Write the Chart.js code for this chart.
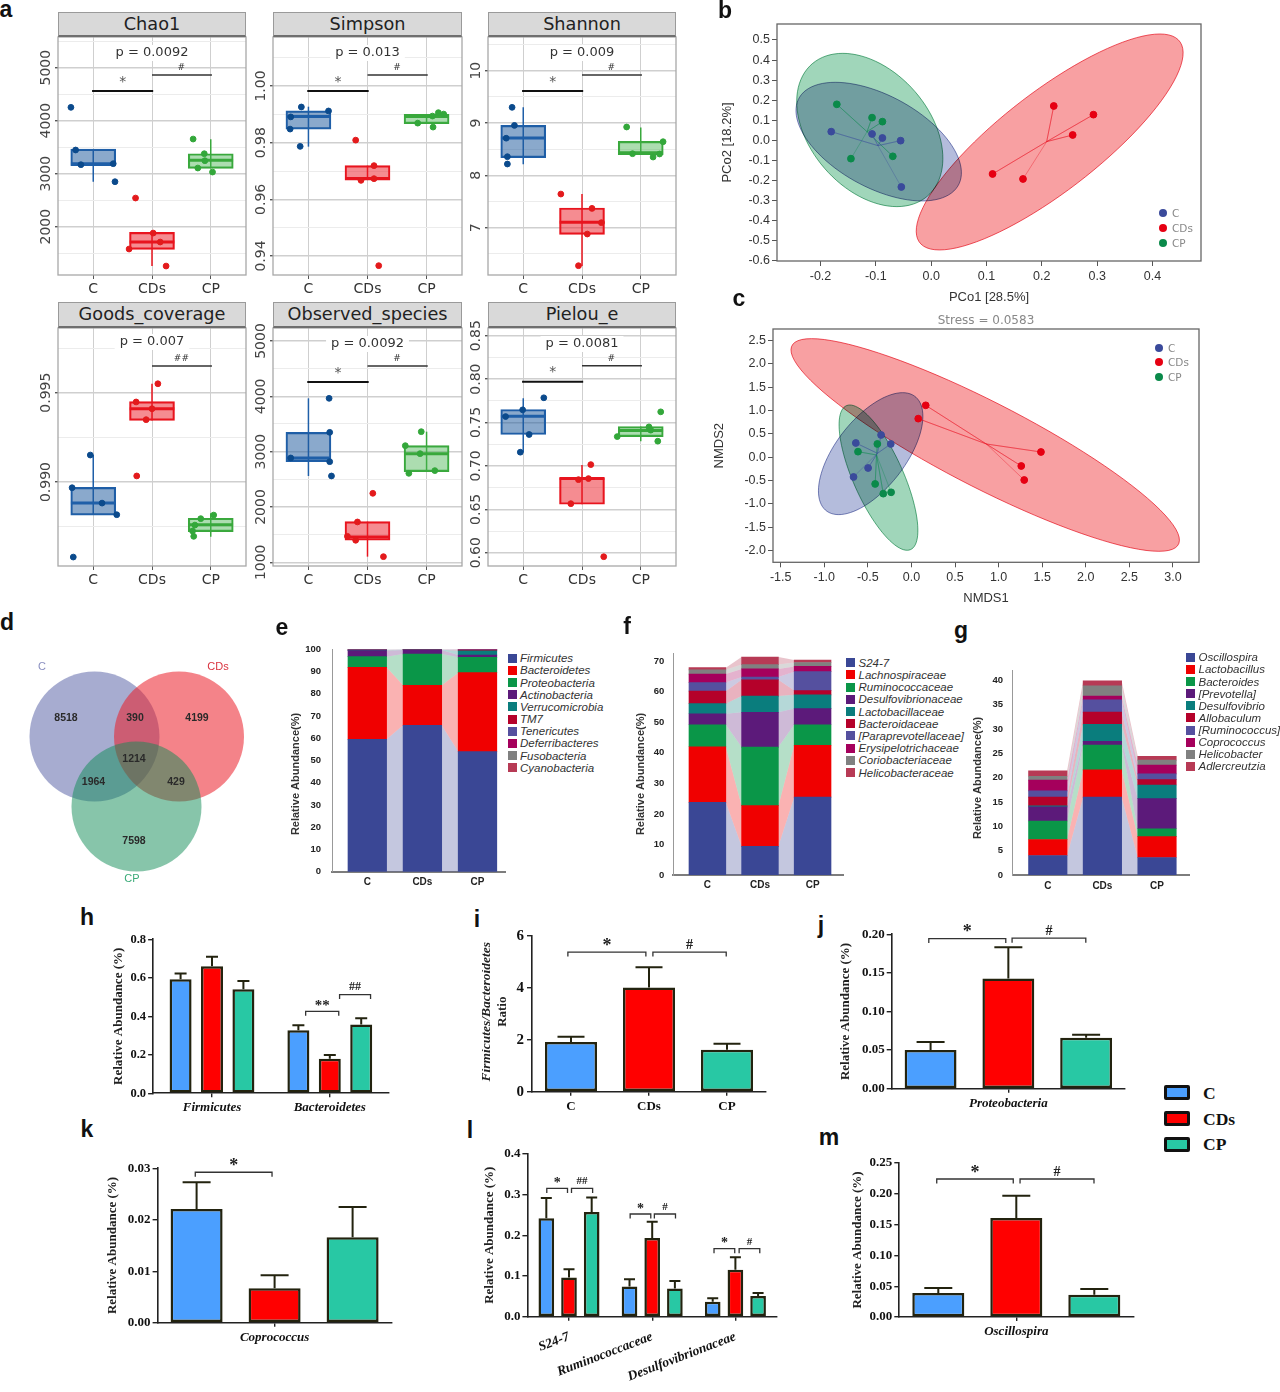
<!DOCTYPE html>
<html><head><meta charset="utf-8">
<script src="https://cdn.jsdelivr.net/npm/chart.js@4/dist/chart.umd.min.js"></script>
<style>
html,body{margin:0;padding:0;background:#fff}
#page{position:relative;width:1280px;height:1392px;overflow:hidden;background:#fff}
#page canvas{position:absolute}
.t{position:absolute;white-space:nowrap;line-height:1}
.strip{position:absolute;box-sizing:border-box;background:#d9d9d9;border:1px solid #9a9a9a;border-bottom:2px solid #6f6f6f;text-align:center;font:17.7px "DejaVu Sans";color:#222;line-height:23px}
</style></head><body><div id="page"></div>
<script>
/* ---------- shared categories ---------- */
const groups = ['C','CDs','CP'];

/* ---------- a: alpha diversity; boxes are [q1, median, q3, whiskerLow, whiskerHigh] ---------- */
const chaoBoxes = [[3151,3189,3465,2849,3465],[1572,1711,1893,1258,1893],[3101,3252,3377,3101,3648]];
const chaoPoints = [[[.62,4252],[.70,3447],[.79,3170],[1.34,3189],[1.37,2849]],[[1.72,2541],[2.02,1880],[2.14,1711],[1.61,1579],[2.24,1258]],[[2.70,3654],[2.89,3377],[2.90,3245],[2.78,3107],[3.03,3031]]];
const chaoMajor = [2000,3000,4000,5000], chaoMinor = [1500,2500,3500,4500,5500];
const simpsonBoxes = [[.9848,.9892,.9912,.9786,.9927],[.9668,.9674,.9719,.9668,.9719],[.9867,.9892,.9900,.9867,.9900]];
const simpsonPoints = [[[.88,.9926],[1.34,.9912],[.70,.9891],[.69,.9848],[.86,.9787]],[[1.80,.9809],[2.11,.9719],[2.11,.9673],[1.89,.9667],[2.19,.9366]],[[3.20,.9906],[3.29,.9901],[3.10,.9894],[2.85,.9869],[3.11,.9855]]];
const simpsonMajor = [.94,.96,.98,1.00], simpsonMinor = [.95,.97,.99,1.01];
const shannonBoxes = [[8.338,8.713,8.955,8.21,9.30],[6.873,7.102,7.376,6.268,7.643],[8.395,8.433,8.65,8.395,8.917]];
const shannonPoints = [[[.81,9.30],[.85,8.955],[.71,8.71],[.73,8.357],[.73,8.217]],[[1.64,7.643],[2.17,7.369],[2.33,7.096],[2.09,6.879],[1.94,6.274]],[[2.76,8.924],[3.38,8.643],[2.86,8.414],[3.32,8.408],[3.21,8.35]]];
const shannonMajor = [7,8,9,10], shannonMinor = [6.5,7.5,8.5,9.5,10.5];
const goodsBoxes = [[.98815,.98882,.98970,.98815,.99151],[.99345,.99410,.99450,.99345,.9955],[.98722,.98761,.98797,.98694,.98825]];
const goodsPoints = [[[.95,.99151],[.64,.98968],[1.15,.98882],[1.40,.98817],[.66,.98580]],[[2.10,.9955],[1.73,.99448],[2.0,.9941],[1.9,.99349],[1.74,.99034]],[[3.05,.98815],[2.83,.98795],[2.73,.98759],[2.69,.98726],[2.71,.98696]]];
const goodsMajor = [.990,.995], goodsMinor = [.9875,.9925,.9975];
const observedBoxes = [[2819,2886,3349,2560,3964],[1398,1458,1735,1102,1735],[2639,2964,3108,2639,3361]];
const observedPoints = [[[1.35,3964],[1.36,3349],[.70,2886],[1.36,2819],[1.39,2560]],[[2.09,2247],[1.83,1729],[1.66,1470],[1.80,1398],[2.27,1102]],[[2.91,3361],[2.64,3108],[2.89,2964],[2.70,2608],[3.14,2657]]];
const observedMajor = [1000,2000,3000,4000,5000], observedMinor = [1500,2500,3500,4500];
const pielouBoxes = [[.7362,.7573,.765,.7158,.7781],[.6558,.6854,.6865,.6558,.7012],[.7338,.7408,.7454,.7285,.7454]];
const pielouPoints = [[[1.35,.7785],[.99,.7646],[.70,.7569],[1.10,.7362],[.95,.7158]],[[2.15,.7015],[2.11,.6854],[1.94,.6842],[1.81,.6565],[2.37,.5954]],[[3.34,.7623],[3.14,.745],[3.17,.7412],[2.60,.7338],[3.29,.7285]]];
const pielouMajor = [.60,.65,.70,.75,.80,.85], pielouMinor = [.625,.675,.725,.775,.825];

/* ---------- b: PCoA ---------- */
const pcoaC = [[-.1806,.0432],[-.1068,.0316],[-.0881,.0116],[-.0552,-.0017],[-.0539,-.2326]];
const pcoaCDs = [[.2216,.1711],[.2933,.1279],[.2558,.0266],[.1110,-.1678],[.1660,-.1927]];
const pcoaCP = [[-.1705,.1794],[-.1068,.1130],[-.0881,.0930],[-.0693,-.0797],[-.1450,-.0914]];
const pcoaCentroids = [[-.0961,-.0266],[.2088,-.0066],[-.1159,.0429]];
/* ellipses: centre x, centre y, conjugate vector a (x,y), conjugate half-width b */
const pcoaEllC = [-.0948,-.0066,-.0784,.2957,.1273];
const pcoaEllCDs = [.2142,-.0083,.1991,.5382,.1361];
const pcoaEllCP = [-.1109,.0515,-.0489,.382,.1227];
const pcoaXTicks = [-.2,-.1,0,.1,.2,.3,.4];
const pcoaYTicks = [-.6,-.5,-.4,-.3,-.2,-.1,0,.1,.2,.3,.4,.5];

/* ---------- c: NMDS ---------- */
const nmdsC = [[-.638,.307],[-.348,.479],[-.237,.286],[-.497,-.229],[-.664,-.421]];
const nmdsCDs = [[.164,1.114],[.078,.829],[1.486,.114],[1.260,-.186],[1.294,-.486]];
const nmdsCP = [[-.613,.121],[-.391,.286],[-.416,-.571],[-.323,-.779],[-.233,-.750]];
const nmdsCentroids = [[-.39,.086],[.859,.286],[-.40,.05]];
const nmdsEllC = [-.4676,.0786,.3669,1.307,.4736];
const nmdsEllCDs = [.8464,.2643,-1.992,2.279,.998];
const nmdsEllCP = [-.378,-.4357,-.3285,1.557,.3106];
const nmdsXTicks = [-1.5,-1,-.5,0,.5,1,1.5,2,2.5,3];
const nmdsYTicks = [-2,-1.5,-1,-.5,0,.5,1,1.5,2,2.5];

/* ---------- d: Venn ---------- */
const vennNames = ['C','CDs','CP'];
const vennCounts = {onlyC:8518,cCDs:390,onlyCDs:4199,all:1214,cCP:1964,cdsCP:429,onlyCP:7598};

/* ---------- e: phylum ---------- */
const phylumNames = ['Firmicutes','Bacteroidetes','Proteobacteria','Actinobacteria','Verrucomicrobia','TM7','Tenericutes','Deferribacteres','Fusobacteria','Cyanobacteria'];
const phylumC = [59.5,32.4,4.8,2.7,.2,.1,.1,.05,.03,.02];
const phylumCDs = [65.8,18,14.1,1.8,.1,.05,.05,.05,.03,.02];
const phylumCP = [54,35.5,6.9,1.0,1.9,.3,.2,.1,.05,.05];
const phylumTicks = [0,10,20,30,40,50,60,70,80,90,100];

/* ---------- f: family ---------- */
const familyNames = ['S24-7','Lachnospiraceae','Ruminococcaceae','Desulfovibrionaceae','Lactobacillaceae','Bacteroidaceae','[Paraprevotellaceae]','Erysipelotrichaceae','Coriobacteriaceae','Helicobacteraceae'];
const familyC = [23.8,18.2,7.2,3.6,3.3,4.1,2.8,2.8,1.4,.7];
const familyCDs = [9.4,13.3,19.2,11.4,5.3,5.3,.9,2.7,1.4,2.5];
const familyCP = [25.5,17,6.7,5.3,4.5,1.4,6.2,1.7,1.3,.8];
const familyTicks = [0,10,20,30,40,50,60,70];

/* ---------- g: genus ---------- */
const genusNames = ['Oscillospira','Lactobacillus','Bacteroides','[Prevotella]','Desulfovibrio','Allobaculum','[Ruminococcus]','Coprococcus','Helicobacter','Adlercreutzia'];
const genusC = [4,3.3,3.8,2.9,.2,1.8,1.3,2.2,.8,1.1];
const genusCDs = [16,5.6,5.1,.8,3.5,2.5,2.5,.8,2.1,1];
const genusCP = [3.6,4.3,1.6,6.2,2.8,1.1,1.2,1.8,1,.8];
const genusTicks = [0,5,10,15,20,25,30,35,40];

/* ---------- h-m: bars; each series is one group, tops are the upper error-bar values ---------- */
const hCats = ['Firmicutes','Bacteroidetes'];
const hMeans = [[.592,.327],[.66,.18],[.54,.357]];
const hTops = [[.622,.353],[.71,.199],[.584,.39]];
const hTicks = [0,.2,.4,.6,.8];
const iMeans = [1.914,4.02,1.62];
const iTops = [2.12,4.8,1.85];
const iTicks = [0,2,4,6];
const jCats = ['Proteobacteria'];
const jMeans = [[.0501],[.1426],[.0661]];
const jTops = [[.0605],[.1832],[.07]];
const jTicks = [0,.05,.10,.15,.20];
const kCats = ['Coprococcus'];
const kMeans = [[.0221],[.00668],[.0166]];
const kTops = [[.0273],[.0092],[.0225]];
const kTicks = [0,.01,.02,.03];
const lCats = ['S24-7','Ruminococcaceae','Desulfovibrionaceae'];
const lMeans = [[.2413,.0744,.0368],[.0965,.193,.1153],[.2568,.0695,.0507]];
const lTops = [[.2912,.0916,.045],[.1162,.2331,.1456],[.2928,.0875,.0581]];
const lTicks = [0,.1,.2,.3,.4];
const mCats = ['Oscillospira'];
const mMeans = [[.039],[.1607],[.0363]];
const mTops = [[.0471],[.197],[.0455]];
const mTicks = [0,.05,.10,.15,.20,.25];

/* ---------- styles ---------- */
const SANS='"Liberation Sans"', SERIF='"Liberation Serif"', DJ='"DejaVu Sans"';
const page=document.getElementById('page');
Chart.defaults.font.family=SANS;
const stackColors=['#3a4795','#f00000','#0a9648','#5c1a7a','#0a7d7d','#b5012a','#55509f','#a5005c','#808080','#b73a55'];
const barColors=['#4b9fff','#ff0000','#28c8a4'];
const boxLine=['#1f5fa8','#e8141e','#39a83c'], boxFill=['rgba(31,90,158,.52)','rgba(235,25,35,.5)','rgba(70,180,80,.45)'], boxDot=['#0b4a8c','#e31a1c','#33a73a'];
const ordColors=['#3a4a9b','#e60012','#0a8a4a'];
const ordFill=['#b4bcdc','#f8a0a2','#a0d6ba'];

function html(text,x,y,css){const d=document.createElement('div');d.className='t';d.textContent=text;d.style.cssText+=`left:${x}px;top:${y}px;transform:translate(-50%,-50%);`+(css||'');page.appendChild(d);return d;}
function leftHtml(text,x,y,css){const d=html(text,x,y,css);d.style.transform='translate(0,-50%)';return d;}

/* create a chart whose plot area is pinned to box = [left, top, right, bottom] */
function pinned(box,pad,cfg,extra){
  extra=extra||{};
  const L=Math.floor(box[0]-pad.l),T=Math.floor(box[1]-pad.t);
  const W=Math.ceil(box[2]+pad.r)-L,H=Math.ceil(box[3]+pad.b)-T;
  const c=document.createElement('canvas');c.width=W;c.height=H;
  c.style.cssText=`left:${L}px;top:${T}px;width:${W}px;height:${H}px`;page.appendChild(c);
  const padL=box[0]-L,padT=box[1]-T,padR=L+W-box[2],padB=T+H-box[3];
  cfg.options=cfg.options||{};
  const o=cfg.options;
  o.responsive=false;o.animation=false;o.devicePixelRatio=1;
  o.layout={autoPadding:false,padding:{left:0,top:padT,right:padR,bottom:0}};
  o.plugins=Object.assign({legend:{display:false},tooltip:{enabled:false}},o.plugins||{});
  o.scales.x.afterFit=s=>{s.height=padB};
  o.scales.y.afterFit=s=>{s.width=padL};
  cfg.plugins=[{id:'custom',
    beforeDatasetsDraw(ch){
      if(extra.ellipses)extra.ellipses.forEach(e=>drawEllipse(ch,e));
      if(extra.bands)drawBands(ch,extra.bands);
    },
    afterDatasetsDraw(ch){
      if(extra.tops)drawErrors(ch,extra.tops,extra.cap);
      if(extra.frame){const a=ch.chartArea,x=ch.ctx;x.save();x.strokeStyle=extra.frame;x.lineWidth=extra.frameW||1.3;x.strokeRect(a.left,a.top,a.right-a.left,a.bottom-a.top);x.restore();}
      if(extra.brackets)extra.brackets.forEach(b=>drawBracket(ch,b));
      if(extra.marks)extra.marks.forEach(m=>{const x=ch.ctx;x.save();x.font=m.font;x.fillStyle=m.color||'#333';x.textAlign='center';x.textBaseline='middle';
        const px=ch.scales.x.getPixelForValue(m.x),py=ch.scales.y.getPixelForValue(m.y)-(m.dy||0);
        if(m.bg){const w=x.measureText(m.text).width+10;x.fillStyle=m.bg;x.fillRect(px-w/2,py-8,w,16);x.fillStyle=m.color||'#333';}
        x.fillText(m.text,px,py);x.restore();});
      if(extra.notes)extra.notes.forEach(n=>{const x=ch.ctx;x.save();x.font=n.font;x.fillStyle=n.color||'#222';x.textAlign='center';x.textBaseline='middle';x.translate(n.x-L,n.y-T);if(n.rot)x.rotate(n.rot);x.fillText(n.text,0,0);x.restore();});
    }}];
  return new Chart(c,cfg);
}
function drawEllipse(ch,e){
  const xs=ch.scales.x,ys=ch.scales.y,x=ch.ctx,[cx,cy,ax,ay,bx]=e.v;
  x.save();x.globalCompositeOperation='multiply';x.beginPath();
  for(let k=0;k<=96;k++){const t=k/96*2*Math.PI,vx=cx+ax*Math.cos(t)+bx*Math.sin(t),vy=cy+ay*Math.cos(t),
    px=xs.getPixelForValue(vx),py=ys.getPixelForValue(vy);k?x.lineTo(px,py):x.moveTo(px,py);}
  x.closePath();x.fillStyle=e.fill;x.fill();x.strokeStyle=e.stroke;x.globalAlpha=.65;x.lineWidth=1;x.stroke();x.restore();
}
function drawBands(ch,half){
  const xs=ch.scales.x,ys=ch.scales.y,x=ch.ctx,ds=ch.data.datasets;
  x.save();x.globalAlpha=.3;
  for(let g=0;g<2;g++){let a=0,b=0;
    ds.forEach(d=>{const a2=a+d.data[g].y,b2=b+d.data[g+1].y;
      const xa=xs.getPixelForValue(g+1)+half,xb=xs.getPixelForValue(g+2)-half;
      x.fillStyle=d.backgroundColor;x.beginPath();
      x.moveTo(xa,ys.getPixelForValue(a));x.lineTo(xb,ys.getPixelForValue(b));x.lineTo(xb,ys.getPixelForValue(b2));x.lineTo(xa,ys.getPixelForValue(a2));x.closePath();x.fill();
      a=a2;b=b2;});}
  x.restore();
}
function drawErrors(ch,tops,cap){
  const ys=ch.scales.y,x=ch.ctx;x.save();x.strokeStyle='#23230f';x.lineWidth=2;
  tops.forEach((arr,di)=>{ch.getDatasetMeta(di).data.forEach((el,i)=>{const yb=ys.getPixelForValue(ch.data.datasets[di].data[i]),yt=ys.getPixelForValue(arr[i]);
    x.beginPath();x.moveTo(el.x,yb);x.lineTo(el.x,yt);x.moveTo(el.x-cap,yt);x.lineTo(el.x+cap,yt);x.stroke();});});
  x.restore();
}
function drawBracket(ch,b){
  const xs=ch.scales.x,ys=ch.scales.y,x=ch.ctx,x0=xs.getPixelForValue(b.x0),x1=xs.getPixelForValue(b.x1),y=ys.getPixelForValue(b.y);
  x.save();x.strokeStyle='#333';x.lineWidth=1.3;x.beginPath();x.moveTo(x0,y+(b.tick||4.5));x.lineTo(x0,y);x.lineTo(x1,y);x.lineTo(x1,y+(b.tick||4.5));x.stroke();
  x.font=`bold ${b.fs||16}px ${SERIF}`;x.fillStyle='#222';x.textAlign='center';x.textBaseline='middle';x.fillText(b.t,(x0+x1)/2,y-(b.dy||7));x.restore();
}
function setTicks(arr){return s=>{s.ticks=arr.map(v=>({value:v}));};}

/* ---------- panel a ---------- */
function alphaPanel(name,box,strip,range,major,minor,dec,boxes,points,star,hash,hashLabel,pText,pY){
  const all=[...major,...minor].sort((a,b)=>a-b);
  const ctx=document.createElement('canvas').getContext('2d');ctx.font=`14px ${DJ}`;
  const widest=Math.max(...major.map(v=>ctx.measureText(v.toFixed(dec)).width));
  const ds=[];
  ds.push({type:'bar',data:boxes.map((b,i)=>({x:i+1,y:[b[0],b[2]]})),backgroundColor:boxFill,borderColor:boxLine,borderWidth:1.5,borderSkipped:false,barThickness:45,order:3});
  boxes.forEach((b,i)=>{
    ds.push({type:'line',data:[{x:i+1,y:b[3]},{x:i+1,y:b[4]}],borderColor:boxLine[i],borderWidth:1.5,pointRadius:0,order:5});
    ds.push({type:'line',data:[{x:i+.62,y:b[1]},{x:i+1.38,y:b[1]}],borderColor:boxLine[i],borderWidth:3,pointRadius:0,order:2});
    ds.push({type:'scatter',data:points[i].map(p=>({x:p[0],y:p[1]})),backgroundColor:boxDot[i],borderColor:boxDot[i],pointRadius:2.9,order:1});
  });
  if(star!==null)ds.push({type:'line',data:[{x:.98,y:star},{x:2.02,y:star}],borderColor:'#111',borderWidth:2,pointRadius:0,order:0});
  ds.push({type:'line',data:[{x:2,y:hash},{x:3.02,y:hash}],borderColor:'#333',borderWidth:1.5,pointRadius:0,order:0});
  const marks=[{x:2,y:range[1],dy:pY,text:pText,font:`13px ${DJ}`,color:'#333',bg:'#fff'},
    {x:2.5,y:hash,dy:7,text:hashLabel,font:`9px ${DJ}`,color:'#333'}];
  if(star!==null)marks.push({x:1.5,y:star,dy:9,text:'*',font:`14px ${DJ}`,color:'#555'});
  pinned(box,{l:26,t:10,r:2,b:30},{type:'bar',data:{datasets:ds},options:{scales:{
    x:{type:'linear',min:.4,max:3.6,offset:false,grid:{offset:false,color:'#cfcfcf',lineWidth:1,tickLength:4,tickColor:'#555'},border:{display:false},afterBuildTicks:setTicks([1,2,3]),
       ticks:{autoSkip:false,maxRotation:0,padding:2,color:'#333',font:{family:DJ,size:14},callback:v=>groups[v-1]}},
    y:{min:range[0],max:range[1],grid:{color:c=>major.includes(c.tick.value)?'#cfcfcf':'#ececec',lineWidth:c=>major.includes(c.tick.value)?1.4:1,tickLength:3,tickColor:c=>major.includes(c.tick.value)?'#555':'rgba(0,0,0,0)'},border:{display:false},afterBuildTicks:setTicks(all),
       ticks:{autoSkip:false,minRotation:90,maxRotation:90,crossAlign:'center',padding:12-3-widest/2,color:'#444',font:{family:DJ,size:14},callback:v=>major.includes(v)?v.toFixed(dec):''}}
  }}},{frame:'#a8a8a8',marks});
  const s=document.createElement('div');s.className='strip';s.textContent=name;
  s.style.cssText=`left:${box[0]}px;top:${strip}px;width:${box[2]-box[0]}px;height:${box[1]-strip}px`;page.appendChild(s);
}
alphaPanel('Chao1',[58,37,246,275],12,[1089,5579],chaoMajor,chaoMinor,0,chaoBoxes,chaoPoints,4560,4862,'#','p = 0.0092',-16);
alphaPanel('Simpson',[273,37,462,275],12,[.9333,1.0173],simpsonMajor,simpsonMinor,2,simpsonBoxes,simpsonPoints,.99824,1.00388,'#','p = 0.013',-16);
alphaPanel('Shannon',[488,37,676,275],12,[6.096,10.644],shannonMajor,shannonMinor,0,shannonBoxes,shannonPoints,9.611,9.917,'#','p = 0.009',-16);
alphaPanel('Goods_coverage',[58,328,246,566],302,[.9853,.99862],goodsMajor,goodsMinor,3,goodsBoxes,goodsPoints,null,.99649,'##','p = 0.007',-14);
alphaPanel('Observed_species',[273,328,462,566],302,[933,5235],observedMajor,observedMinor,0,observedBoxes,observedPoints,4259,4548,'#','p = 0.0092',-16);
alphaPanel('Pielou_e',[488,328,676,566],302,[.5847,.8589],pielouMajor,pielouMinor,2,pielouBoxes,pielouPoints,.7969,.8154,'#','p = 0.0081',-16);

/* ---------- panels b, c ---------- */
function ordPanel(box,pad,xr,yr,xT,yT,sets,cents,ells,xt,yt){
  const ds=[];
  sets.forEach((s,i)=>{
    const spoke=[];s.forEach(p=>{spoke.push({x:cents[i][0],y:cents[i][1]});spoke.push({x:p[0],y:p[1]});});
    ds.push({type:'line',data:spoke,borderColor:ordColors[i]+'55',borderWidth:1,pointRadius:0,order:2});
    ds.push({type:'scatter',data:s.map(p=>({x:p[0],y:p[1]})),backgroundColor:ordColors[i],borderColor:ordColors[i],pointRadius:3.4,order:1});
  });
  const tickFont={family:SANS,size:12.5};
  pinned(box,pad,{type:'scatter',data:{datasets:ds},options:{scales:{
    x:{type:'linear',min:xr[0],max:xr[1],grid:{display:true,drawOnChartArea:false,tickLength:5,color:'#555'},border:{display:false},afterBuildTicks:setTicks(xT),
       title:{display:true,text:xt,color:'#333',font:{family:SANS,size:13},padding:0},ticks:{autoSkip:false,maxRotation:0,padding:3,color:'#333',font:tickFont,callback:v=>v.toFixed(1)}},
    y:{min:yr[0],max:yr[1],grid:{display:true,drawOnChartArea:false,tickLength:5,color:'#555'},border:{display:false},afterBuildTicks:setTicks(yT),
       title:{display:true,text:yt,color:'#333',font:{family:SANS,size:13},padding:0},ticks:{autoSkip:false,padding:2,color:'#333',font:tickFont,callback:v=>v.toFixed(1)}}
  }}},{frame:'#666',ellipses:ells});
}
ordPanel([777,24,1201,261],{l:57,t:12,r:6,b:44},[-.2786,.4877],[-.6015,.5797],pcoaXTicks,pcoaYTicks,[pcoaC,pcoaCDs,pcoaCP],pcoaCentroids,
  [{v:pcoaEllCP,fill:ordFill[2],stroke:ordColors[2]},{v:pcoaEllC,fill:ordFill[0],stroke:ordColors[0]},{v:pcoaEllCDs,fill:ordFill[1],stroke:ordColors[1]}],'PCo1 [28.5%]','PCo2 [18.2%]');
ordPanel([773,329,1199,562.3],{l:61,t:12,r:6,b:43},[-1.588,3.299],[-2.25,2.75],nmdsXTicks,nmdsYTicks,[nmdsC,nmdsCDs,nmdsCP],nmdsCentroids,
  [{v:nmdsEllCDs,fill:ordFill[1],stroke:ordColors[1]},{v:nmdsEllCP,fill:ordFill[2],stroke:ordColors[2]},{v:nmdsEllC,fill:ordFill[0],stroke:ordColors[0]}],'NMDS1','NMDS2');
html('Stress = 0.0583',986,320,`font:12px ${DJ};color:#888`);
[[1163,213],[1163,228],[1163,243]].forEach((p,i)=>{
  const d=document.createElement('div');d.style.cssText=`position:absolute;left:${p[0]-4}px;top:${p[1]-4}px;width:8px;height:8px;border-radius:50%;background:${ordColors[i]}`;page.appendChild(d);
  leftHtml(groups[i],p[0]+9,p[1],`font:10.5px ${DJ};color:#888`);
});
[[1159,348],[1159,362],[1159,377]].forEach((p,i)=>{
  const d=document.createElement('div');d.style.cssText=`position:absolute;left:${p[0]-4}px;top:${p[1]-4}px;width:8px;height:8px;border-radius:50%;background:${ordColors[i]}`;page.appendChild(d);
  leftHtml(groups[i],p[0]+9,p[1],`font:10.5px ${DJ};color:#888`);
});

/* ---------- panel d: Venn ---------- */
const vennF=`bold 10.5px ${SANS}`;
pinned([5,655,255,885],{l:0,t:0,r:0,b:0},{type:'bubble',data:{datasets:[
  {label:'CP',data:[{x:136.5,y:806.5,r:65}],backgroundColor:'rgba(15,140,85,.5)',borderWidth:0,order:1,clip:false},
  {label:'CDs',data:[{x:179,y:736.5,r:65}],backgroundColor:'rgba(235,30,40,.55)',borderWidth:0,order:2,clip:false},
  {label:'C',data:[{x:94.5,y:736.5,r:65}],backgroundColor:'rgba(60,70,150,.45)',borderWidth:0,order:3,clip:false}
]},options:{scales:{x:{type:'linear',min:5,max:255,display:false},y:{min:655,max:885,reverse:true,display:false}}}},
{notes:[
 {text:String(vennCounts.onlyC),x:66,y:718,font:vennF,color:'#2a2a2a'},{text:String(vennCounts.cCDs),x:135,y:718,font:vennF,color:'#2a2a2a'},
 {text:String(vennCounts.onlyCDs),x:197,y:718,font:vennF,color:'#2a2a2a'},{text:String(vennCounts.all),x:134,y:759,font:vennF,color:'#2a2a2a'},
 {text:String(vennCounts.cCP),x:93.5,y:782,font:vennF,color:'#2a2a2a'},{text:String(vennCounts.cdsCP),x:176,y:782,font:vennF,color:'#2a2a2a'},
 {text:String(vennCounts.onlyCP),x:134,y:841,font:vennF,color:'#2a2a2a'},
 {text:vennNames[0],x:42,y:667,font:`11px ${SANS}`,color:'#8a8fc0'},{text:vennNames[1],x:218,y:667,font:`11px ${SANS}`,color:'#d9333f'},{text:vennNames[2],x:132,y:879,font:`11px ${SANS}`,color:'#3aaa78'}
]});

/* ---------- panels e, f, g: stacked ---------- */
function stackPanel(box,padL,x1,spacing,barW,top,ticks,names,vals,tickPad,title,titleX,titleY,xLabelPad,lx,ly,ldy){
  const xmin=1-(x1-box[0])/spacing,xmax=1+(box[2]-x1)/spacing;
  const ds=names.map((n,i)=>({label:n,data:vals.map((v,g)=>({x:g+1,y:v[i]})),backgroundColor:stackColors[i],barThickness:barW,borderWidth:0}));
  const f={family:SANS,size:10,weight:'bold'};
  pinned(box,{l:padL,t:20,r:2,b:22},{type:'bar',data:{datasets:ds},options:{scales:{
    x:{type:'linear',stacked:true,offset:false,min:xmin,max:xmax,grid:{offset:false,display:false,drawTicks:false,tickLength:0},border:{display:true,color:'#7d7d7d',width:2},afterBuildTicks:setTicks([1,2,3]),
       ticks:{autoSkip:false,maxRotation:0,padding:xLabelPad,color:'#222',font:f,callback:v=>groups[v-1]}},
    y:{stacked:true,min:0,max:top,grid:{display:false,drawTicks:false,tickLength:0},border:{display:true,color:'#999',width:1},afterBuildTicks:setTicks(ticks),
       ticks:{autoSkip:false,padding:tickPad,color:'#222',font:{family:SANS,size:9.5,weight:'bold'},callback:v=>String(v)}}
  }}},{bands:barW/2,notes:[{text:title,x:titleX,y:titleY,rot:-Math.PI/2,font:`bold 11px ${SANS}`,color:'#333'}]});
  names.forEach((n,i)=>{
    const y=ly+ldy*i,d=document.createElement('div');
    d.style.cssText=`position:absolute;left:${lx}px;top:${y-4.5}px;width:9px;height:9px;background:${stackColors[i]}`;page.appendChild(d);
    leftHtml(n,lx+12.5,y,`font:italic 11.5px ${SANS};color:#333`);
  });
}
stackPanel([332,649.3,505,871.7],42.6,367.3,55.1,38.6,100,phylumTicks,phylumNames,[phylumC,phylumCDs,phylumCP],11,'Relative Abundance(%)',296,774,5,507.5,658.3,12.17);
stackPanel([673,653,843,875],38.6,707.4,52.6,36.8,72.7,familyTicks,familyNames,[familyC,familyCDs,familyCP],8.6,'Relative Abundance(%)',641,774,4,846,662.7,12.2);
stackPanel([1012.6,670.7,1189,875],41.7,1047.8,54.6,38.5,42,genusTicks,genusNames,[genusC,genusCDs,genusCP],9.6,'Relative Abundance(%)',977.5,778,5,1186,657.3,12.12);

/* ---------- panels h-m: bars ---------- */
function barPanel(o){
  const single=!Array.isArray(o.means[0]);
  const ds=single?[{data:o.means,backgroundColor:barColors,borderColor:'#23230f',borderWidth:2.5,borderSkipped:false,barPercentage:o.bar,categoryPercentage:o.cat}]
    :o.means.map((m,i)=>({label:groups[i],data:m,backgroundColor:barColors[i],borderColor:'#23230f',borderWidth:2.5,borderSkipped:false,barPercentage:o.bar,categoryPercentage:o.cat}));
  const xf={family:SERIF,size:o.xfs||13,weight:'bold',style:o.xItalic===false?'normal':'italic'};
  const yScale={min:0,max:o.top,grid:{display:true,drawOnChartArea:false,tickLength:5,color:'#222',lineWidth:1.4},border:{display:true,color:'#222',width:1.6},afterBuildTicks:setTicks(o.ticks),
    ticks:{autoSkip:false,padding:o.ypad||2,color:'#111',font:{family:SERIF,size:o.yfs||13,weight:'bold'},callback:v=>v.toFixed(o.dec)}};
  if(o.ytitle)yScale.title={display:true,text:o.ytitle,color:'#222',font:{family:SERIF,size:o.tfs||13,weight:'bold'},padding:0};
  pinned(o.box,{l:o.padL,t:14,r:3,b:o.padB||26},{type:'bar',data:{labels:o.cats,datasets:ds},options:{scales:{
    x:{grid:{display:true,drawOnChartArea:false,tickLength:4,color:'#222',lineWidth:1.4,offset:false},border:{display:true,color:'#222',width:1.6},
       ticks:{autoSkip:false,minRotation:o.rot||0,maxRotation:o.rot||0,padding:o.xpad||3,color:'#111',font:xf}},
    y:yScale}}},{tops:single?[o.tops]:o.tops,cap:o.cap,brackets:o.brackets,notes:o.notes});
}
barPanel({box:[153.1,939.3,388.7,1093.3],padL:41.3,cats:hCats,means:hMeans,tops:hTops,top:.8,ticks:hTicks,dec:1,cat:.8,bar:.7,cap:6,yfs:12.5,ytitle:'Relative Abundance (%)',
  brackets:[{x0:.795,x1:1.076,y:.426,t:'**',fs:15,dy:5},{x0:1.083,x1:1.346,y:.5126,t:'##',fs:12,dy:8}]});
barPanel({box:[532,936,766,1091.7],padL:50,cats:groups,means:iMeans,tops:iTops,top:6,ticks:iTicks,dec:0,cat:1,bar:.667,cap:13.5,yfs:15,ypad:3,xItalic:false,
  brackets:[{x0:-.04,x1:.96,y:5.38,t:'*',fs:18,dy:6},{x0:1.05,x1:1.99,y:5.38,t:'#',fs:14,dy:7}],
  notes:[{text:'Firmicutes/Bacteroidetes',x:487,y:1011.7,rot:-Math.PI/2,font:`italic bold 13.5px ${SERIF}`,color:'#222'},{text:'Ratio',x:503,y:1011.7,rot:-Math.PI/2,font:`bold 13px ${SERIF}`,color:'#222'}]});
barPanel({box:[891.7,934.3,1125,1088.7],padL:52.9,cats:jCats,means:jMeans,tops:jTops,top:.2,ticks:jTicks,dec:2,cat:1,bar:.667,cap:14,ytitle:'Relative Abundance (%)',
  brackets:[{x0:-.341,x1:-.011,y:.1944,t:'*',fs:18,dy:6},{x0:.016,x1:.332,y:.195,t:'#',fs:14,dy:7}]});
barPanel({box:[157.6,1168.3,391.6,1322.7],padL:52,cats:kCats,means:kMeans,tops:kTops,top:.03,ticks:kTicks,dec:2,cat:1,bar:.667,cap:14,ytitle:'Relative Abundance (%)',
  brackets:[{x0:-.339,x1:-.011,y:.02923,t:'*',fs:18,dy:6}]});
barPanel({box:[527.4,1153.7,777,1316.7],padL:44.6,padB:75,rot:21,xfs:13.5,xpad:8,cats:lCats,means:lMeans,tops:lTops,top:.4,ticks:lTicks,dec:1,cat:.818,bar:.69,cap:5.5,ytitle:'Relative Abundance (%)',
  brackets:[{x0:-.267,x1:-.018,y:.3149,t:'*',fs:14,dy:5},{x0:.03,x1:.284,y:.3149,t:'##',fs:11,dy:7},
            {x0:.735,x1:.983,y:.252,t:'*',fs:14,dy:5},{x0:1.026,x1:1.28,y:.252,t:'#',fs:11,dy:7},
            {x0:1.743,x1:1.992,y:.1669,t:'*',fs:14,dy:5},{x0:2.045,x1:2.293,y:.1669,t:'#',fs:11,dy:7}]});
barPanel({box:[899.3,1163,1133.3,1317],padL:49.2,cats:mCats,means:mMeans,tops:mTops,top:.25,ticks:mTicks,dec:2,cat:1,bar:.667,cap:14,ytitle:'Relative Abundance (%)',
  brackets:[{x0:-.34,x1:-.013,y:.224,t:'*',fs:18,dy:6},{x0:.016,x1:.332,y:.224,t:'#',fs:14,dy:7}]});

/* shared legend for h-m */
groups.forEach((g,i)=>{
  const y=[1092.7,1118.5,1144.2][i],d=document.createElement('div');
  d.style.cssText=`position:absolute;box-sizing:border-box;left:1164px;top:${y-7.5}px;width:26px;height:15px;background:${barColors[i]};border:3px solid #111;border-radius:2px`;page.appendChild(d);
  leftHtml(g,1203,y,`font:bold 17.5px ${SERIF};color:#111`);
});

/* panel letters */
const letterA=`font:bold 23px ${SANS};color:#111`;
[['a',6,9],['b',725,10],['c',739,298],['d',7,622],['e',282,627],['f',627,626],['g',961,630],['h',87,917],['i',477,919],['j',821,925],['k',87,1129],['l',470,1130],['m',829,1137]]
 .forEach(l=>html(l[0],l[1],l[2],letterA));
</script></body></html>
